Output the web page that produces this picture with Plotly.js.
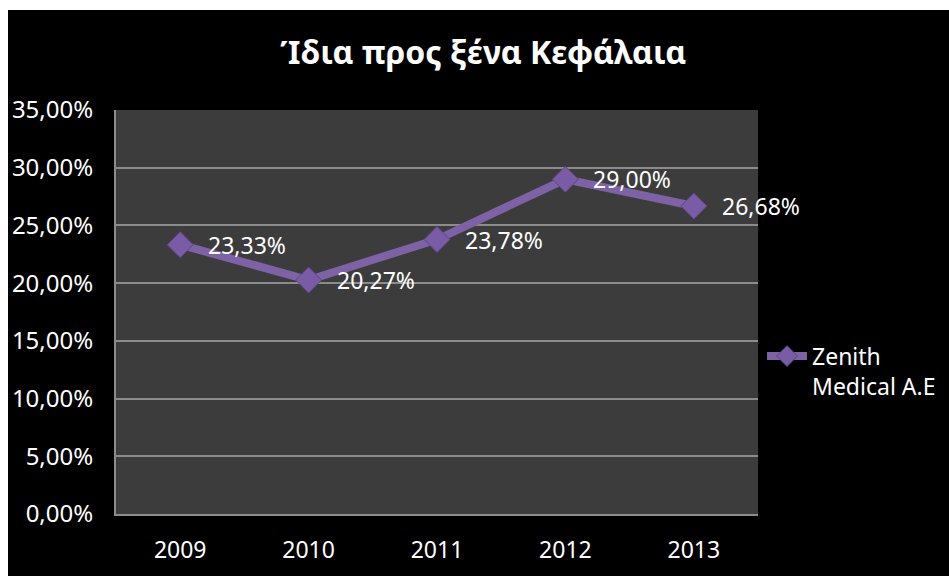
<!DOCTYPE html>
<html>
<head>
<meta charset="utf-8">
<script src="https://cdn.plot.ly/plotly-3.0.1.min.js"></script>
<style>
html,body{margin:0;padding:0;background:#ffffff;width:949px;height:576px;overflow:hidden;}
#chart{position:absolute;left:8px;top:10px;width:941px;height:566px;}
</style>
</head>
<body>
<div id="chart"></div>
<script>
const years = ['2009', '2010', '2011', '2012', '2013'];
const ratios = [0.2333, 0.2027, 0.2378, 0.2900, 0.2668];
const ratioLabels = ['23,33%', '20,27%', '23,78%', '29,00%', '26,68%'];
const seriesName = 'Zenith<br>Medical A.E';
const chartTitle = 'Ίδια προς ξένα Κεφάλαια';

const FONT = 'Noto Sans, Open Sans, sans-serif';

const trace = {
  type: 'scatter',
  mode: 'lines+markers',
  x: years,
  y: ratios,
  name: seriesName,
  line: {color: '#7e62a6', width: 8},
  marker: {symbol: 'diamond', size: 20, color: '#7a5ca6', line: {color: '#5d4683', width: 1}},
  cliponaxis: false,
  hoverinfo: 'skip'
};

// data labels: category axis positions are the category indices
const labelAnnotations = years.map((yr, i) => ({
  x: i,
  y: ratios[i],
  xref: 'x',
  yref: 'y',
  text: ratioLabels[i],
  showarrow: false,
  xanchor: 'left',
  yanchor: 'middle',
  xshift: 26,
  font: {family: FONT, size: 23, color: '#ffffff'}
}));

const layout = {
  width: 941,
  height: 566,
  margin: {l: 108, r: 191, t: 100, b: 62},
  paper_bgcolor: '#000000',
  plot_bgcolor: '#3c3c3c',
  separators: ', ',
  font: {family: FONT, color: '#ffffff', size: 23},
  title: {
    text: '<b>' + chartTitle + '</b>',
    font: {family: FONT, size: 32, color: '#ffffff'},
    x: 0.505, xanchor: 'center',
    y: 0.924, yanchor: 'middle'
  },
  showlegend: true,
  legend: {
    xref: 'container', yref: 'container',
    x: 0.8013, xanchor: 'left',
    y: 0.362, yanchor: 'middle',
    valign: 'top',
    bgcolor: 'rgba(0,0,0,0)',
    font: {family: FONT, size: 23, color: '#ffffff'},
    itemwidth: 40
  },
  annotations: labelAnnotations,
  xaxis: {
    type: 'category',
    range: [-0.5, 4.5],
    showgrid: false,
    zeroline: false,
    showline: true,
    linecolor: '#8c8c8c',
    linewidth: 2,
    ticks: 'outside',
    ticklen: 14,
    tickcolor: 'rgba(0,0,0,0)',
    tickfont: {family: FONT, size: 23, color: '#ffffff'},
    fixedrange: true
  },
  yaxis: {
    range: [0, 0.35],
    dtick: 0.05,
    tickformat: '.2%',
    showgrid: true,
    gridcolor: '#8c8c8c',
    gridwidth: 2,
    zeroline: false,
    showline: true,
    linecolor: '#8c8c8c',
    linewidth: 2,
    ticks: 'outside',
    ticklen: 16,
    tickcolor: 'rgba(0,0,0,0)',
    tickfont: {family: FONT, size: 24, color: '#ffffff'},
    fixedrange: true
  }
};

Plotly.newPlot('chart', [trace], layout, {displayModeBar: false, staticPlot: true});
</script>
</body>
</html>
